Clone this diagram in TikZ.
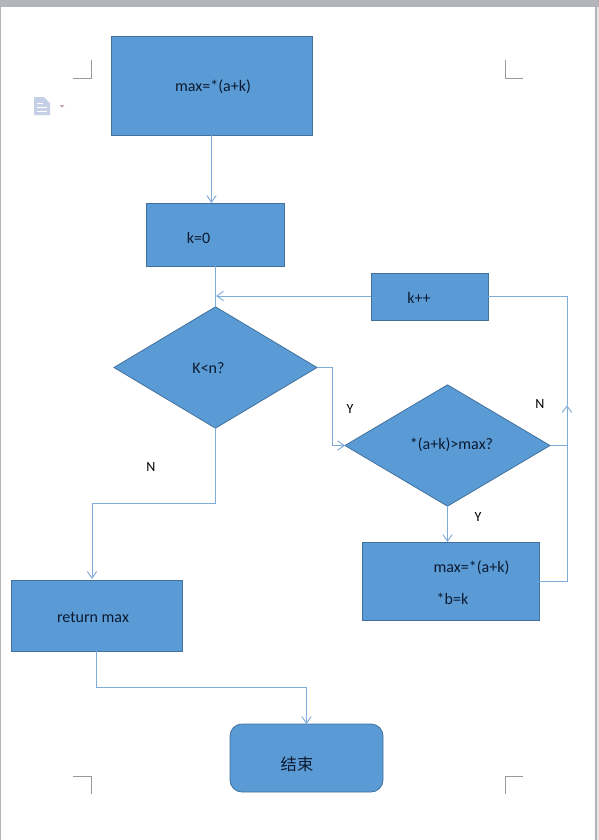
\documentclass[tikz,border=0pt]{standalone}
\usepackage{fontspec}
\setmainfont{Carlito}
\newfontfamily\cjk{Noto Sans CJK SC}
\usetikzlibrary{shapes.geometric,arrows.meta}
\definecolor{fillblue}{HTML}{5B9BD5}
\definecolor{edgeblue}{HTML}{41719C}
\definecolor{linkblue}{HTML}{7FABD9}
\definecolor{inkdark}{HTML}{0B1A30}
\definecolor{framegray}{HTML}{B4B5BB}
\definecolor{cropgray}{HTML}{9A9A9A}
\definecolor{iconblue}{HTML}{C5D0E6}
\definecolor{icontip}{HTML}{C0A8B4}
\tikzset{
  x=0.75pt,y=-0.75pt,
  flowbox/.style={draw=edgeblue,fill=fillblue,line width=0.6pt,inner sep=0pt,outer sep=0pt},
  flowdia/.style={flowbox,diamond,shape aspect=1.66},
  txt/.style={text=inkdark,inner sep=0pt,font=\fontsize{12}{14}\selectfont},
  lbl/.style={text=black,inner sep=0pt,font=\fontsize{10.5}{12}\selectfont},
  link/.style={draw=linkblue,line width=0.7pt},
  arr/.style={link,-{Straight Barb[length=5pt,width=7pt,line width=0.7pt]}},
  crop/.style={draw=cropgray,line width=0.5pt}
}
\begin{document}
\begin{tikzpicture}
\useasboundingbox (0,0) rectangle (599,840);
\fill[framegray] (0,0) rectangle (599,840);
\fill[white] (1.5,6.5) rectangle (594.5,840);
\fill[gray!20] (597,6.5) rectangle (599,840);
% crop marks
\draw[crop] (73,78) -- (91,78) -- (91,60);
\draw[crop] (505,60) -- (505,78) -- (523,78);
\draw[crop] (73,776) -- (91,776) -- (91,794);
\draw[crop] (523,776) -- (505,776) -- (505,794);
% floating paste icon
\fill[iconblue] (34,97) -- (44,97) -- (50,103) -- (50,115) -- (34,115) -- cycle;
\draw[white,line width=0.7pt] (37,103) -- (43,103) (37,107) -- (47,107) (37,111) -- (47,111);
\fill[icontip] (59.5,105) -- (64.5,105) -- (62,107.5) -- cycle;
% nodes
\node[flowbox,minimum width=150.75pt,minimum height=74.25pt] (init) at (211.5,85.5) {};
\node[flowbox,minimum width=103.5pt,minimum height=47.25pt] (kzero) at (215,234.5) {};
\node[flowbox,minimum width=87.75pt,minimum height=35.25pt] (kinc) at (429.5,296.5) {};
\node[flowdia,minimum width=152.25pt,minimum height=91pt] (loop) at (215.5,367.5) {};
\node[flowdia,minimum width=153.75pt,minimum height=91pt] (cmp) at (447.5,445.5) {};
\node[flowbox,minimum width=132.75pt,minimum height=58.5pt] (upd) at (450.5,581) {};
\node[flowbox,minimum width=128.25pt,minimum height=53.25pt] (ret) at (96.5,615.5) {};
\node[flowbox,rounded corners=9pt,minimum width=114.75pt,minimum height=51pt] (fin) at (306.5,758) {};
% text
\node[txt] (t1) at (213,86.5) {max=*(a+k)};
\node[txt] (t2) at (198.5,237.5) {k=0};
\node[txt] (t3) at (419,297.5) {k++};
\node[txt] (t4) at (208.5,368.5) {K<n?};
\node[txt] (t5) at (451.5,444.5) {*(a+k)>max?};
\node[txt] (t6) at (471.5,567.5) {max=*(a+k)};
\node[txt] (t7) at (452.5,598.5) {*b=k};
\node[txt] (t8) at (93,617.5) {return max};
\node[txt,font=\fontsize{12.2}{14}\selectfont\cjk] (t9) at (297,764.5) {结束};
\node[lbl] (ly1) at (350,409) {Y};
\node[lbl] (ln1) at (540,404) {N};
\node[lbl] (ly2) at (478,517) {Y};
\node[lbl] (ln2) at (151,467) {N};
% connectors
\coordinate (jr) at (567,445.5);
\coordinate (up) at (567,405);
\coordinate (merge) at (216,296);
\draw[arr] (init.south) -- (init.south |- kzero.north);
\draw[link] (kzero.south -| loop.north) -- (loop.north);
\draw[arr] (kinc.west |- merge) -- (merge);
\draw[arr] (loop.east) -- (332,367.5) -- (332,445.5) -- (cmp.west);
\draw[arr] (cmp.south) -- (cmp.south |- upd.north);
\draw[link] (cmp.east) -- (jr);
\draw[link] (kinc.east |- merge) -- (567,296) -- (up);
\draw[arr] (upd.east) -- (567,581) -- (up);
\draw[arr] (loop.south) -- (215.5,503) -- (92,503) -- (92,579);
\draw[arr] (ret.south) -- (96.5,687) -- (306.5,687) -- (fin.north);
\end{tikzpicture}
\end{document}
